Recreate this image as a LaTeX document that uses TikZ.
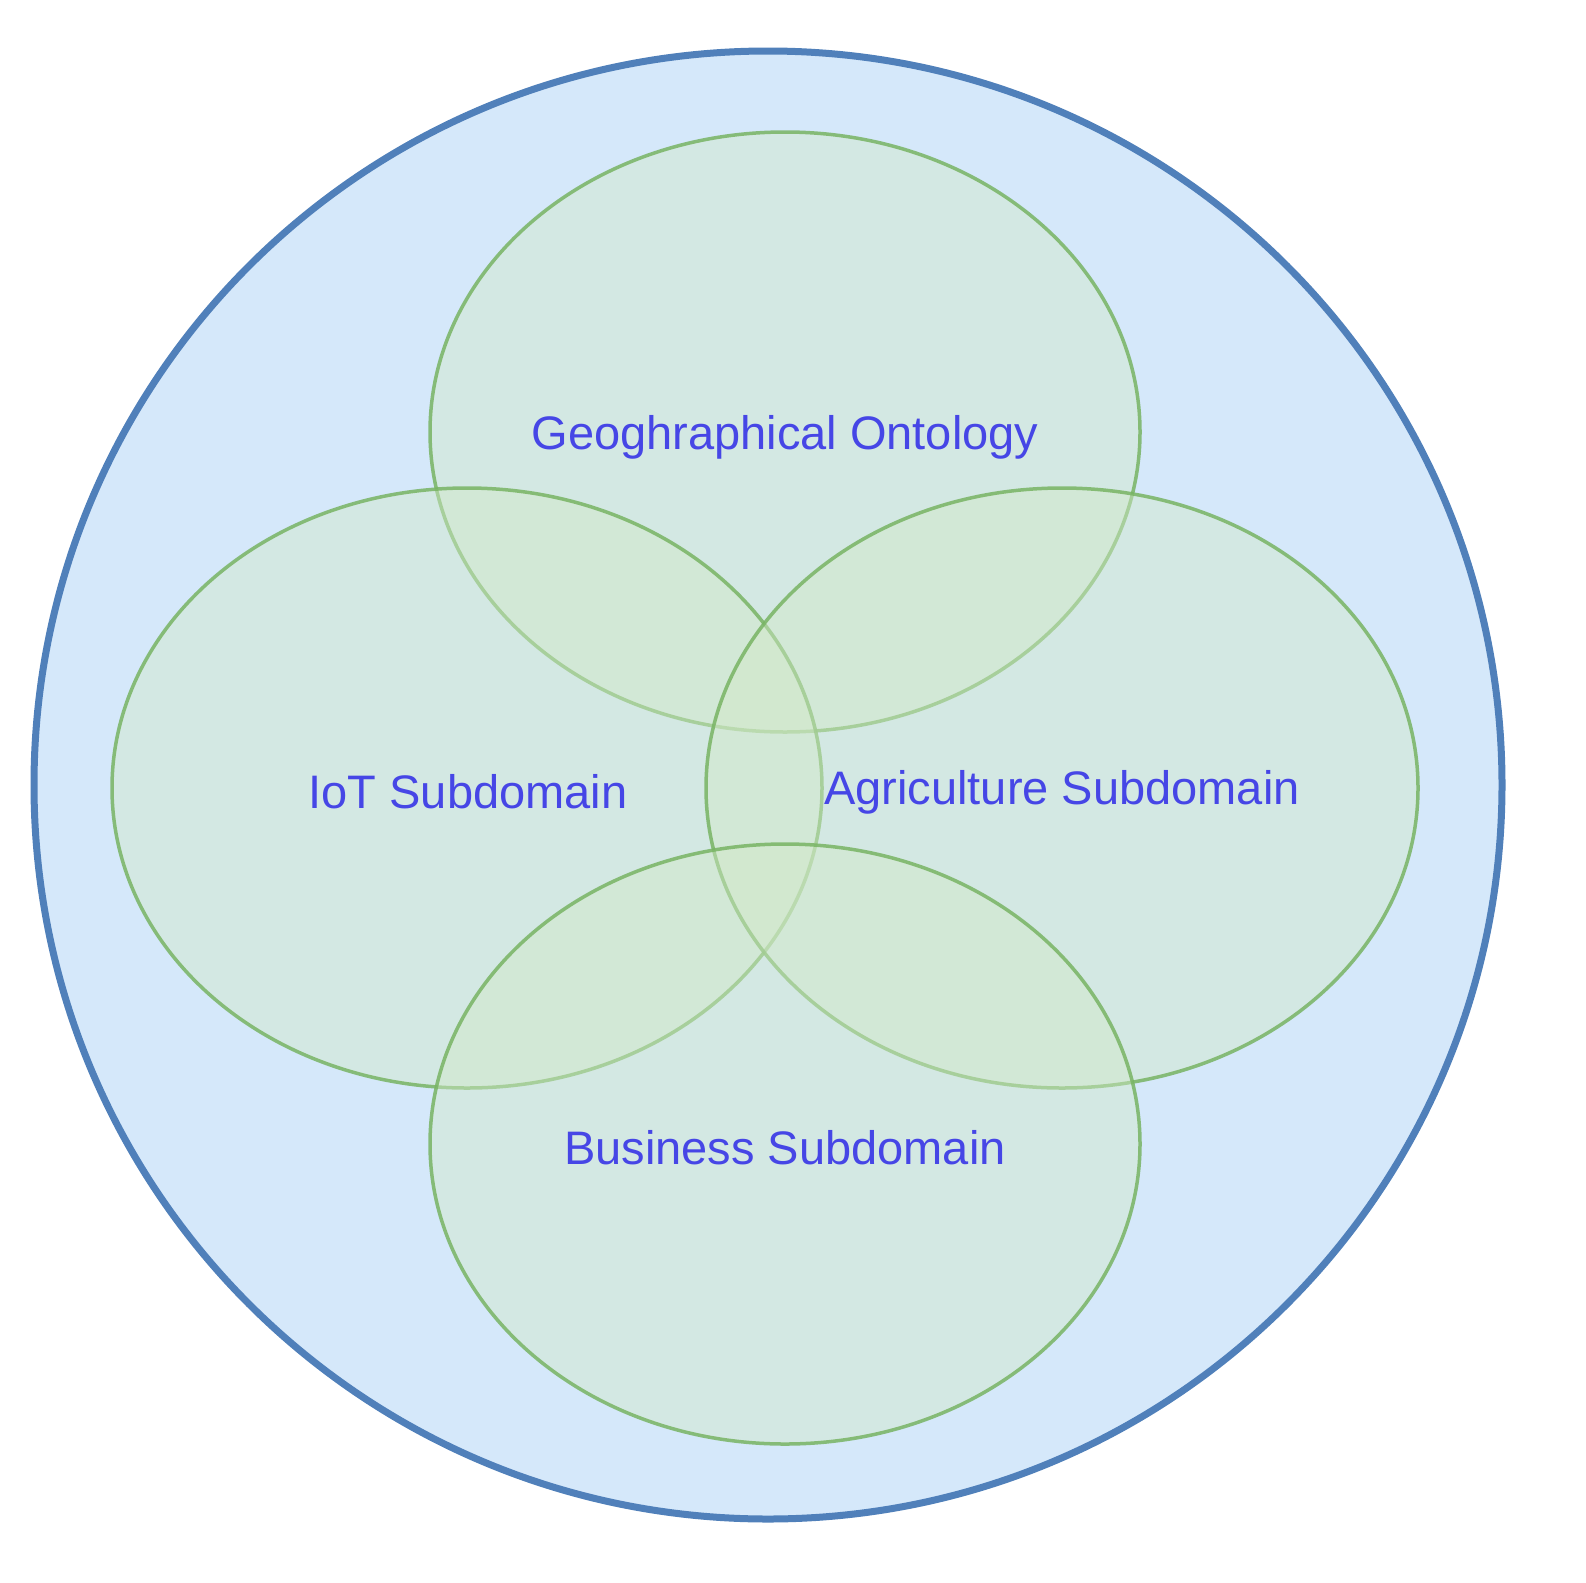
\documentclass[tikz,border=0pt]{standalone}
\usepackage{fontspec}
\setmainfont{Liberation Sans}
\begin{document}
\begin{tikzpicture}[x=1pt,y=-1pt,
  outer/.style={draw={rgb,255:red,80;green,128;blue,186},line width=7pt,fill={rgb,255:red,213;green,232;blue,250}},
  sub/.style={draw={rgb,255:red,120;green,180;blue,100},line width=3.5pt,fill={rgb,255:red,210;green,232;blue,200},fill opacity=0.45,draw opacity=0.85},
  lbl/.style={text={rgb,255:red,70;green,70;blue,230},font=\fontsize{47}{54}\selectfont}]
\useasboundingbox (0,0) rectangle (1586,1582);
\path[outer] (768,785) circle[radius=734];
\path[sub] (785,432) ellipse[x radius=355,y radius=300];
\path[sub] (467,788) ellipse[x radius=355,y radius=300];
\path[sub] (1062,788) ellipse[x radius=356,y radius=300];
\path[sub] (785,1144) ellipse[x radius=355,y radius=300];
\node[lbl] (geo) at (785,437) {Geoghraphical Ontology};
\node[lbl] (iot) at (468,792) {IoT Subdomain};
\node[lbl] (agr) at (1062,792) {Agriculture Subdomain};
\node[lbl] (bus) at (785,1148) {Business Subdomain};
\end{tikzpicture}
\end{document}
